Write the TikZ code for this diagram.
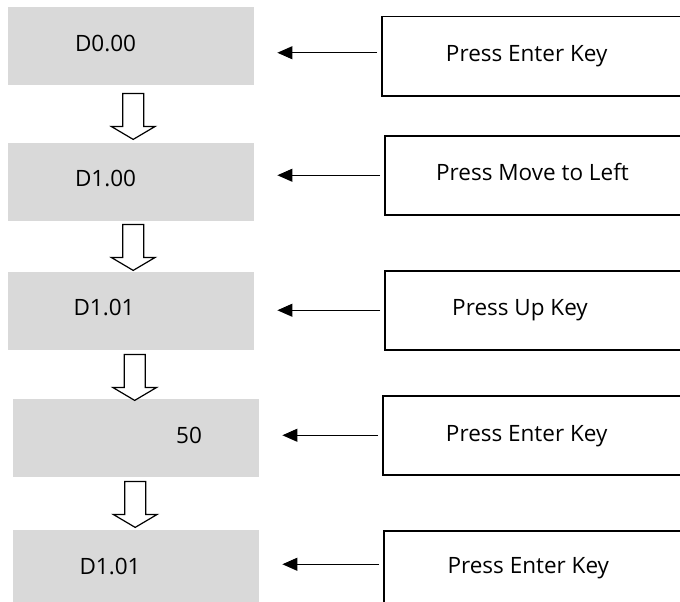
\documentclass[tikz,border=0pt]{standalone}
\usepackage{fontspec}
\setmainfont{Open Sans}
\usetikzlibrary{arrows.meta,calc}
\definecolor{boxgray}{HTML}{D9D9D9}
\tikzset{
  graybox/.style={fill=boxgray, draw=none, anchor=north west, inner sep=0pt, minimum width=246pt, minimum height=78pt},
  keybox/.style={draw=black, line width=1.5pt, fill=white, anchor=north west, inner sep=0pt, minimum width=330pt, minimum height=79pt},
  lbl/.style={font=\fontsize{22.5}{26}\selectfont, inner sep=0pt, anchor=base},
  pointer/.style={line width=1.1pt, -{Triangle[length=15pt,width=13pt]}, shorten >=23pt, shorten <=4pt},
  hollow/.style={draw=black, line width=1.2pt, fill=white, line join=miter},
  pics/downarrow/.style={code={
    \draw[hollow] (-10.5,0) -- (10.5,0) -- (10.5,33) -- (22,33) -- (0,46) -- (-22,33) -- (-10.5,33) -- cycle;
  }}
}
\begin{document}
\begin{tikzpicture}[x=1pt,y=-1pt]
\useasboundingbox (0,0) rectangle (680,602);
\clip (0,0) rectangle (680,602);
\fill[white] (0,0) rectangle (680,602);

% gray display boxes
\node[graybox] (g1) at (8,7) {};
\node[graybox] (g2) at (8,143) {};
\node[graybox] (g3) at (8,272) {};
\node[graybox] (g4) at (13,399) {};
\node[graybox] (g5) at (13,530) {};

\node[lbl] (t1) at (105.5,52) {D0.00};
\node[lbl] (t2) at (105.5,186) {D1.00};
\node[lbl] (t3) at (104,315) {D1.01};
\node[lbl] (t4) at (189,443) {50};
\node[lbl] (t5) at (110,574) {D1.01};

% key boxes
\node[keybox] (r1) at (381,16) {};
\node[keybox] (r2) at (384,135) {};
\node[keybox] (r3) at (384,270) {};
\node[keybox] (r4) at (382,395) {};
\node[keybox] (r5) at (383,530) {};

\node[lbl] (k1) at (526.7,62) {Press Enter Key};
\node[lbl] (k2) at (532.5,180) {Press Move to Left};
\node[lbl] (k3) at (520,315) {Press Up Key};
\node[lbl] (k4) at (526.7,441) {Press Enter Key};
\node[lbl] (k5) at (528.3,573) {Press Enter Key};

% pointers from key boxes to displays
\draw[pointer] ([yshift=3.5pt]r1.west) -- ([yshift=3.5pt]r1.west -| g1.east);
\draw[pointer] (r2.west) -- (r2.west -| g2.east);
\draw[pointer] (r3.west) -- (r3.west -| g3.east);
\draw[pointer] (r4.west) -- (r4.west -| g4.east);
\draw[pointer] ([yshift=6pt]r5.west) -- ([yshift=6pt]r5.west -| g5.east);

% hollow down arrows between displays
\pic at ([xshift=2pt,yshift=-8pt]g1.south) {downarrow};
\pic at ([xshift=2pt,yshift=-3pt]g2.south) {downarrow};
\pic at ([xshift=3.5pt,yshift=-4pt]g3.south) {downarrow};
\pic at ([xshift=-1pt,yshift=-4pt]g4.south) {downarrow};
\end{tikzpicture}
\end{document}
